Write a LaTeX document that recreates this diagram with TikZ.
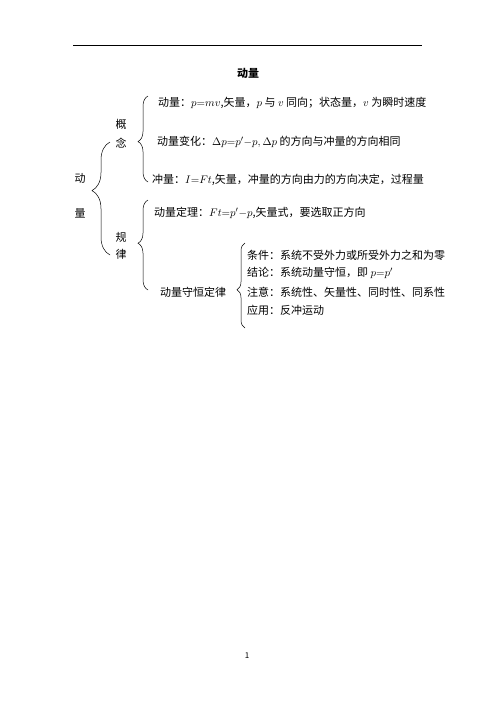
\documentclass[tikz,border=0pt]{standalone}
\usepackage{fontspec}
\setmainfont{Noto Sans CJK SC}
\usetikzlibrary{decorations.pathreplacing}
\begin{document}
\begin{tikzpicture}[x=1pt,y=-1pt]
\tikzstyle{every node}+=[inner sep=0pt,font=\fontsize{11}{13}\selectfont]
\tikzset{item/.style={anchor=west},
  brc/.style 2 args={decorate,decoration={brace,amplitude=#1,aspect=#2},line width=0.5pt}}
\useasboundingbox (0,0) rectangle (496,702);
\draw [line width=0.6pt] (73,45) -- (422,45);
\node [font=\bfseries\fontsize{11}{13}\selectfont] (title) at (248,73) {动量};
% left column
\node (dong) at (80,178) {动};
\node (liang) at (80,213) {量};
\node (gai) at (121,124) {概};
\node (nian) at (121,143) {念};
\node (gui) at (121,237) {规};
\node (lv) at (121,254) {律};
% braces
\coordinate (b1s) at (110,255);
\coordinate (b1e) at (110,142);
\coordinate (b2s) at (148,182);
\coordinate (b2e) at (148,96);
\coordinate (b3s) at (148,290);
\coordinate (b3e) at (148,200);
\coordinate (b4s) at (245,328);
\coordinate (b4e) at (245,243);
\draw [brc={18pt}{0.57}] (b1s) -- (b1e);
\draw [brc={10pt}{0.47}] (b2s) -- (b2e);
\draw [brc={10pt}{0.52}] (b3s) -- (b3e);
\draw [brc={8pt}{0.45}] (b4s) -- (b4e);
% items
\node [item] (dl) at (158,103) {动量：$p{=}mv$,矢量，$p$ 与 $v$ 同向；状态量，$v$ 为瞬时速度};
\node [item] (bh) at (157,142) {动量变化：$\Delta p{=}p'{-}p,\Delta p$ 的方向与冲量的方向相同};
\node [item] (cl) at (152,180) {冲量：$I{=}Ft$,矢量，冲量的方向由力的方向决定，过程量};
\node [item] (dlz) at (154,213) {动量定理：$Ft{=}p'{-}p$,矢量式，要选取正方向};
\node [item] (sh) at (160,292) {动量守恒定律};
\node [item] (tj) at (247,255) {条件：系统不受外力或所受外力之和为零};
\node [item] (jl) at (247,273) {结论：系统动量守恒，即 $p{=}p'$};
\node [item] (zy) at (247,292) {注意：系统性、矢量性、同时性、同系性};
\node [item] (yy) at (247,310) {应用：反冲运动};
\node [font=\fontsize{8}{9}\selectfont] (page) at (247,656) {1};
\end{tikzpicture}
\end{document}
